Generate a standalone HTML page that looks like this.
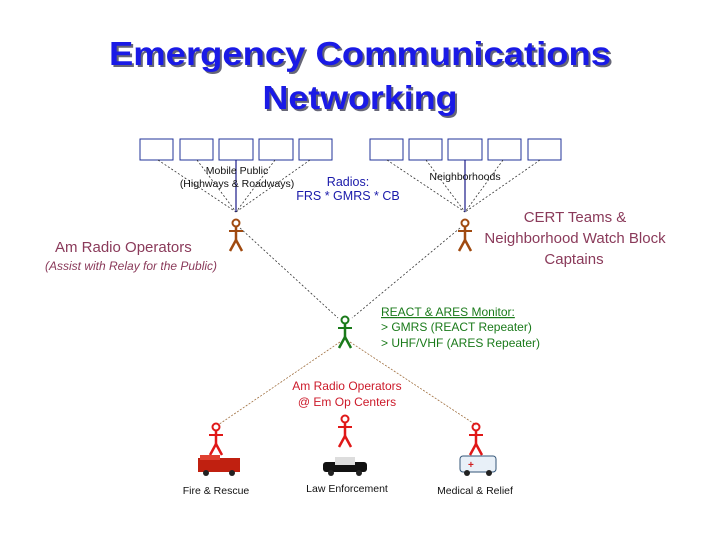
<!DOCTYPE html>
<html><head><meta charset="utf-8"><style>
html,body{margin:0;padding:0;background:#fff}
svg{display:block}
text{font-family:"Liberation Sans",sans-serif}
</style></head><body>
<svg width="720" height="540" viewBox="0 0 720 540" xmlns="http://www.w3.org/2000/svg">
<defs>
<g id="fig">
  <circle cx="0" cy="4" r="3.5" fill="none" stroke-width="2"/>
  <line x1="0" y1="8" x2="0" y2="22" stroke-width="2.5"/>
  <line x1="-7" y1="12" x2="7" y2="12" stroke-width="2"/>
  <line x1="0" y1="21" x2="-6" y2="32" stroke-width="2.5"/>
  <line x1="0" y1="21" x2="6" y2="32" stroke-width="2.5"/>
</g>
</defs>
<g font-weight="bold" font-size="33" text-anchor="middle">
<text x="362" y="67" fill="#667" textLength="502" lengthAdjust="spacingAndGlyphs">Emergency  Communications</text>
<text x="360" y="65" fill="#1a1ae6" textLength="502" lengthAdjust="spacingAndGlyphs">Emergency  Communications</text>
<text x="362" y="111" fill="#667" textLength="195" lengthAdjust="spacingAndGlyphs">Networking</text>
<text x="360" y="109" fill="#1a1ae6" textLength="195" lengthAdjust="spacingAndGlyphs">Networking</text>
</g>
<g fill="#fff" stroke="#223399" stroke-width="1">
<rect x="140" y="139" width="33" height="21"/><rect x="180" y="139" width="33" height="21"/><rect x="219" y="139" width="34" height="21"/><rect x="259" y="139" width="34" height="21"/><rect x="299" y="139" width="33" height="21"/>
<rect x="370" y="139" width="33" height="21"/><rect x="409" y="139" width="33" height="21"/><rect x="448" y="139" width="34" height="21"/><rect x="488" y="139" width="33" height="21"/><rect x="528" y="139" width="33" height="21"/>
</g>
<g stroke="#333" stroke-width="0.8" stroke-dasharray="2,2">
<line x1="158" y1="160" x2="236" y2="212"/><line x1="197" y1="160" x2="236" y2="212"/><line x1="275" y1="160" x2="236" y2="212"/><line x1="310" y1="160" x2="236" y2="212"/>
<line x1="387" y1="160" x2="465" y2="212"/><line x1="426" y1="160" x2="465" y2="212"/><line x1="503" y1="160" x2="465" y2="212"/><line x1="540" y1="160" x2="465" y2="212"/>
<line x1="240" y1="228" x2="338" y2="318"/><line x1="460" y1="228" x2="352" y2="318"/>
</g>
<g stroke="#1a1a88" stroke-width="1.2">
<line x1="236" y1="160" x2="236" y2="212"/><line x1="465" y1="160" x2="465" y2="212"/>
</g>
<g stroke="#a07040" stroke-width="0.8" stroke-dasharray="2,1.5">
<line x1="340" y1="342" x2="218" y2="425"/><line x1="350" y1="342" x2="476" y2="425"/>
</g>
<g stroke="#a04a10"><use href="#fig" x="236" y="219"/><use href="#fig" x="465" y="219"/></g>
<g stroke="#1a7a1a"><use href="#fig" x="345" y="316"/></g>
<g stroke="#e01818"><use href="#fig" x="216" y="423"/><use href="#fig" x="345" y="415"/><use href="#fig" x="476" y="423"/></g>
<rect x="198" y="458" width="42" height="14" fill="#c02010"/><rect x="200" y="455" width="20" height="5" fill="#e04030"/>
<circle cx="206" cy="473" r="3" fill="#222"/><circle cx="232" cy="473" r="3" fill="#222"/>
<rect x="323" y="462" width="44" height="10" rx="3" fill="#111"/><rect x="335" y="457" width="20" height="8" fill="#ddd"/>
<circle cx="331" cy="473" r="3" fill="#222"/><circle cx="359" cy="473" r="3" fill="#222"/>
<rect x="460" y="456" width="36" height="16" rx="3" fill="#e8f0f8" stroke="#357" stroke-width="1"/><text x="468" y="468" font-size="10" fill="#d02020" font-weight="bold">+</text>
<circle cx="467" cy="473" r="3" fill="#222"/><circle cx="489" cy="473" r="3" fill="#222"/>
<g font-size="10.5" fill="#111" text-anchor="middle">
<text x="237" y="174">Mobile Public</text>
<text x="237" y="187">(Highways &amp; Roadways)</text>
<text x="465" y="180">Neighborhoods</text>
<text x="216" y="494">Fire &amp; Rescue</text>
<text x="347" y="492">Law Enforcement</text>
<text x="475" y="494">Medical &amp; Relief</text>
</g>
<g font-size="12.5" fill="#1a1aaa" text-anchor="middle">
<text x="348" y="186">Radios:</text>
<text x="348" y="200">FRS * GMRS * CB</text>
</g>
<g font-size="15" fill="#8a3a5a">
<text x="55" y="252">Am Radio Operators</text>
<text x="575" y="222" text-anchor="middle">CERT Teams &amp;</text>
<text x="575" y="243" text-anchor="middle">Neighborhood Watch Block</text>
<text x="574" y="264" text-anchor="middle">Captains</text>
</g>
<text x="45" y="270" font-size="12" font-style="italic" fill="#8a3a5a">(Assist with Relay for the Public)</text>
<g font-size="12" fill="#1a7a1a">
<text x="381" y="316" text-decoration="underline">REACT &amp; ARES Monitor:</text>
<text x="381" y="331">&gt; GMRS (REACT Repeater)</text>
<text x="381" y="347">&gt; UHF/VHF (ARES Repeater)</text>
</g>
<g font-size="12" fill="#cc1a2a" text-anchor="middle">
<text x="347" y="390">Am Radio Operators</text>
<text x="347" y="406">@ Em Op Centers</text>
</g>
</svg>
</body></html>
